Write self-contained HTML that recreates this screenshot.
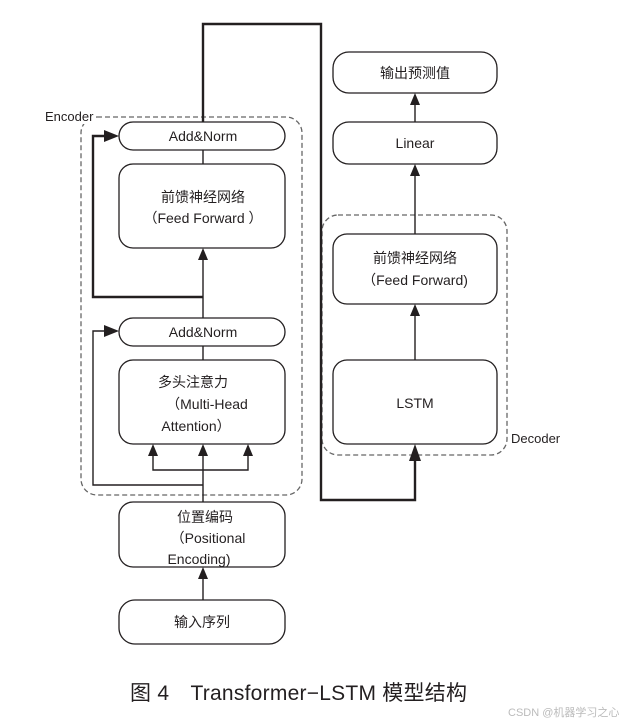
<!DOCTYPE html>
<html><head><meta charset="utf-8"><style>
html,body{margin:0;padding:0;background:#fff;}
svg{display:block;}
text{font-family:"Liberation Sans","Noto Sans CJK SC",sans-serif;fill:#231f20;}
</style></head><body>
<svg width="643" height="723" viewBox="0 0 643 723" xmlns="http://www.w3.org/2000/svg">
<g fill="none" stroke="#666" stroke-width="1.3" stroke-dasharray="5,3">
<rect x="81" y="117" width="221" height="378" rx="16"/>
<rect x="322" y="215" width="185" height="240" rx="16"/>
</g>
<g fill="#fff" stroke="#231f20" stroke-width="1.3">
<rect x="119" y="122" width="166" height="28" rx="14"/>
<rect x="119" y="164" width="166" height="84" rx="14"/>
<rect x="119" y="318" width="166" height="28" rx="14"/>
<rect x="119" y="360" width="166" height="84" rx="14"/>
<rect x="119" y="502" width="166" height="65" rx="14"/>
<rect x="119" y="600" width="166" height="44" rx="16"/>
<rect x="333" y="52" width="164" height="41" rx="16"/>
<rect x="333" y="122" width="164" height="42" rx="16"/>
<rect x="333" y="234" width="164" height="70" rx="14"/>
<rect x="333" y="360" width="164" height="84" rx="14"/>
</g>
<g fill="none" stroke="#231f20" stroke-width="1.4">
<line x1="203" y1="150" x2="203" y2="164"/>
<line x1="203" y1="346" x2="203" y2="360"/>
<line x1="203" y1="318" x2="203" y2="297"/>
<line x1="203" y1="297" x2="203" y2="258"/>
<line x1="203" y1="502" x2="203" y2="455"/>
<polyline points="203,470 153,470 153,455"/>
<polyline points="203,470 248,470 248,455"/>
<polyline points="203,485 93,485 93,331 106,331"/>
<line x1="203" y1="600" x2="203" y2="578"/>
<line x1="415" y1="360" x2="415" y2="315"/>
<line x1="415" y1="234" x2="415" y2="175"/>
<line x1="415" y1="122" x2="415" y2="104"/>
</g>
<g fill="none" stroke="#231f20" stroke-width="2.4">
<polyline points="203,297 93,297 93,136 106,136"/>
<polyline points="203,122 203,24 321,24 321,500 415,500 415,460"/>
</g>
<g fill="#231f20">
<path d="M203,248 L198,260 L208,260 Z"/>
<path d="M203,444 L198,456 L208,456 Z"/>
<path d="M153,444 L148,456 L158,456 Z"/>
<path d="M248,444 L243,456 L253,456 Z"/>
<path d="M203,567 L198,579 L208,579 Z"/>
<path d="M415,304 L410,316 L420,316 Z"/>
<path d="M415,164 L410,176 L420,176 Z"/>
<path d="M415,93 L410,105 L420,105 Z"/>
<path d="M415,444 L409,461 L421,461 Z"/>
<path d="M119,136 L104,130 L104,142 Z"/>
<path d="M119,331 L104,325 L104,337 Z"/>
</g>
<g font-size="14" text-anchor="middle">
<text x="203" y="141">Add&amp;Norm</text>
<text x="203" y="202">前馈神经网络</text>
<text x="203" y="223">（Feed Forward ）</text>
<text x="203" y="337">Add&amp;Norm</text>
<text x="193" y="387">多头注意力</text>
<text x="207" y="409">（Multi-Head</text>
<text x="196" y="431">Attention）</text>
<text x="205" y="522">位置编码</text>
<text x="208" y="543">（Positional</text>
<text x="199" y="564">Encoding)</text>
<text x="202" y="627">输入序列</text>
<text x="415" y="78">输出预测值</text>
<text x="415" y="148">Linear</text>
<text x="415" y="263">前馈神经网络</text>
<text x="415" y="285">（Feed Forward)</text>
<text x="415" y="408">LSTM</text>
</g>
<rect x="44" y="108" width="52" height="16" fill="#fff"/>
<text x="45" y="121" font-size="13">Encoder</text>
<text x="511" y="443" font-size="13">Decoder</text>
<text x="130" y="700" font-size="21" textLength="337">图 4　Transformer−LSTM 模型结构</text>
<text x="508" y="716" font-size="11" style="fill:#bbb">CSDN @机器学习之心</text>
</svg>
</body></html>
